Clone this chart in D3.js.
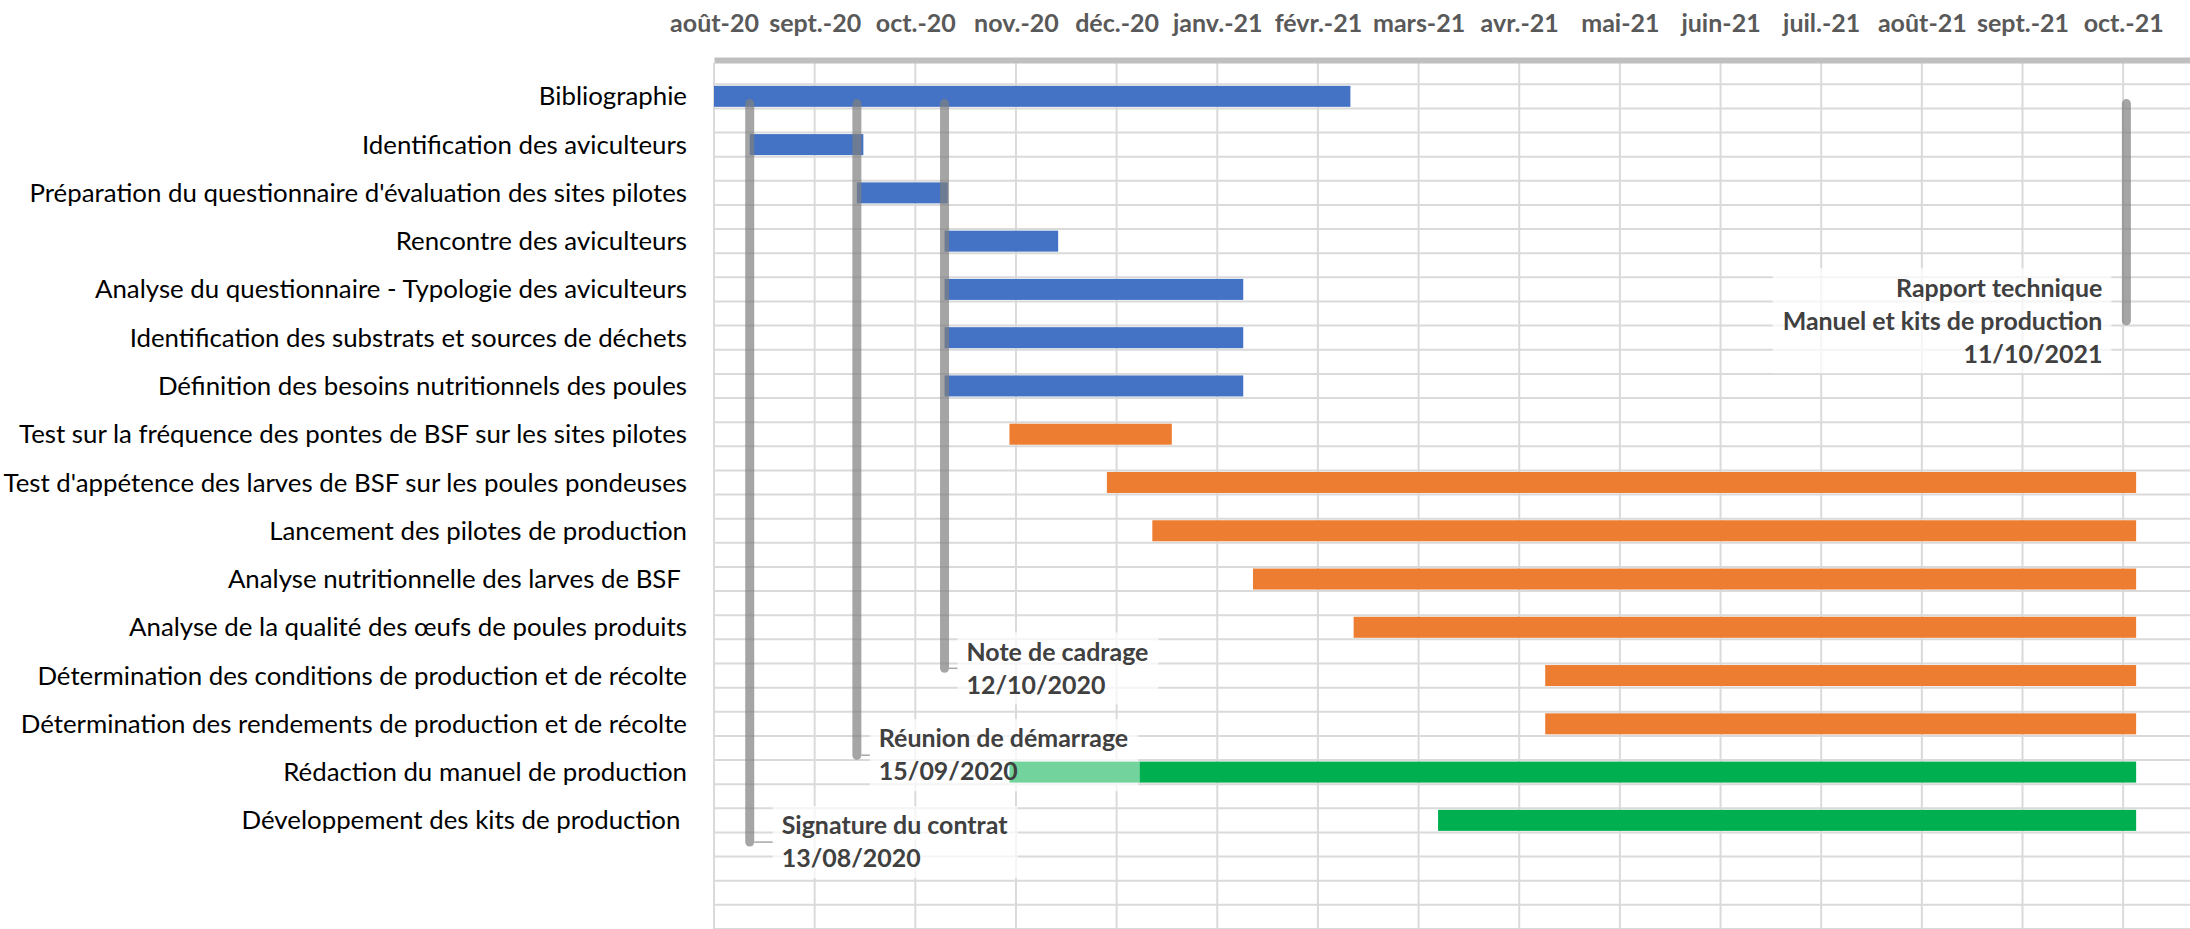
<!DOCTYPE html>
<html>
<head>
<meta charset="utf-8">
<script src="https://cdn.jsdelivr.net/npm/d3@7"></script>
<style>
  html, body { margin: 0; padding: 0; background: #ffffff; }
  svg { display: block; }
</style>
</head>
<body>
<svg id="chart" width="2190" height="929"></svg>
<script>
// ---------------- DATA ----------------
const tasks = [
  "Bibliographie",
  "Identification des aviculteurs",
  "Préparation du questionnaire d'évaluation des sites pilotes",
  "Rencontre des aviculteurs",
  "Analyse du questionnaire - Typologie des aviculteurs",
  "Identification des substrats et sources de déchets",
  "Définition des besoins nutritionnels des poules",
  "Test sur la fréquence des pontes de BSF sur les sites pilotes",
  "Test d'appétence des larves de BSF sur les poules pondeuses",
  "Lancement des pilotes de production",
  "Analyse nutritionnelle des larves de BSF ",
  "Analyse de la qualité des œufs de poules produits",
  "Détermination des conditions de production et de récolte",
  "Détermination des rendements de production et de récolte",
  "Rédaction du manuel de production",
  "Développement des kits de production "
];
const taskStart = [
  "2020-08-01", "2020-08-13", "2020-09-15", "2020-10-12", "2020-10-12", "2020-10-12", "2020-10-12",
  "2020-11-01", "2020-12-01", "2020-12-15", "2021-01-15", "2021-02-15", "2021-04-15", "2021-04-15",
  "2020-12-11", "2021-03-13"
];
const taskEnd = [
  "2021-02-14", "2020-09-17", "2020-10-13", "2020-11-16", "2021-01-12", "2021-01-12", "2021-01-12",
  "2020-12-21", "2021-10-14", "2021-10-14", "2021-10-14", "2021-10-14", "2021-10-14", "2021-10-14",
  "2021-10-14", "2021-10-14"
];
const taskPhase = [
  "Phase 1", "Phase 1", "Phase 1", "Phase 1", "Phase 1", "Phase 1", "Phase 1",
  "Phase 2", "Phase 2", "Phase 2", "Phase 2", "Phase 2", "Phase 2", "Phase 2",
  "Phase 3", "Phase 3"
];
// earlier (lighter) part of a task
const preTask  = ["Rédaction du manuel de production"];
const preStart = ["2020-11-01"];
const preEnd   = ["2020-12-11"];

// milestones
const msDates  = ["2020-08-13", "2020-09-15", "2020-10-12", "2021-10-11"];
const msLabels = [
  ["Signature du contrat", "13/08/2020"],
  ["Réunion de démarrage", "15/09/2020"],
  ["Note de cadrage", "12/10/2020"],
  ["Rapport technique", "Manuel et kits de production", "11/10/2021"]
];
const msLevel = [15.95, 14.15, 12.35, 5.15];   // bottom of each milestone line, in row units
const msTopLevel = 0.65;                        // top of milestone lines, in row units

// axis ticks
const tickDates = ["2020-08-02", "2020-09-02", "2020-10-03", "2020-11-03", "2020-12-04", "2021-01-04",
  "2021-02-04", "2021-03-07", "2021-04-07", "2021-05-08", "2021-06-08", "2021-07-09", "2021-08-09",
  "2021-09-09", "2021-10-10"];
const tickLabels = ["août-20", "sept.-20", "oct.-20", "nov.-20", "déc.-20", "janv.-21", "févr.-21",
  "mars-21", "avr.-21", "mai-21", "juin-21", "juil.-21", "août-21", "sept.-21", "oct.-21"];

// ---------------- LAYOUT / STYLE ----------------
const W = 2190, H = 929;
const FONT = "Lato, 'Open Sans', sans-serif";
const phaseColors = ["#4472c4", "#ed7d31", "#00b050"];
const preColor = "#72d39c";
const gridColor = "#dadada";
const labelDx = [32, 22, 22, -24];
const plotLeft = 714, plotTop = 72.2, plotBottom = 844.5;
const pxPerDay = 3.2469;
const barH = 21;

const parse = d3.utcParse("%Y-%m-%d");
const svg = d3.select("#chart");

function textWidth(text, weight, size) {
  const t = svg.append("text").attr("font-family", FONT).attr("font-weight", weight)
    .attr("font-size", size).style("white-space", "pre").text(text);
  const w = t.node().getComputedTextLength();
  t.remove();
  return w;
}
function fitFont(text, weight, target) {
  return 100 * target / textWidth(text, weight, 100);
}
const widestCat = d3.max(tasks, t => textWidth(t, 400, 100));
const catSize = Math.min(
  fitFont("Préparation du questionnaire d'évaluation des sites pilotes", 400, 666),
  100 * 684 / widestCat
);
const tickSize = fitFont("sept.-21", 700, 92);
const msSize = fitFont("Manuel et kits de production", 700, 320);

const d0 = parse("2020-08-02"), d1 = parse("2021-10-31");
const nDays = (d1 - d0) / 864e5;
const x = d3.scaleUtc().domain([d0, d1]).range([plotLeft, plotLeft + nDays * pxPerDay]).clamp(true);
const y = d3.scaleBand().domain(tasks).range([plotTop, plotBottom]).padding(0);
const yLin = d3.scaleLinear().domain([0, tasks.length]).range([plotTop, plotBottom]);
const color = d3.scaleOrdinal().domain(["Phase 1", "Phase 2", "Phase 3"]).range(phaseColors);

// ---------------- GRID ----------------
const grid = svg.append("g");
const hLines = d3.range(0, 40).map(k => yLin(0.25 + k * 0.5)).filter(v => v <= H + 1);
grid.selectAll("line.h").data(hLines).join("line")
  .attr("x1", plotLeft).attr("x2", W).attr("y1", d => d).attr("y2", d => d)
  .attr("stroke", gridColor).attr("stroke-width", 2);
grid.selectAll("line.v").data(tickDates).join("line")
  .attr("x1", d => x(parse(d))).attr("x2", d => x(parse(d)))
  .attr("y1", 63).attr("y2", H)
  .attr("stroke", gridColor).attr("stroke-width", 2);

// ---------------- MILESTONE LABEL BOXES (behind bars) ----------------
const lineGap = 33;
const msData = msDates.map((d, i) => ({
  date: parse(d), lines: msLabels[i], level: msLevel[i], dx: labelDx[i]
}));
msData.forEach(m => {
  m.x = x(m.date);
  m.py = yLin(m.level);
  m.widths = m.lines.map(s => textWidth(s, 700, msSize));
  m.maxW = d3.max(m.widths);
  m.tx = m.x + m.dx;
});
const boxes = svg.append("g");
msData.forEach(m => {
  const n = m.lines.length;
  const h = n * lineGap + 6;
  const bx = m.dx > 0 ? m.tx - 9 : m.tx - m.maxW - 10;
  boxes.append("rect")
    .attr("x", bx).attr("y", m.py - h / 2)
    .attr("width", m.maxW + 19).attr("height", h)
    .attr("fill", "#ffffff").attr("fill-opacity", 0.72);
});

// ---------------- BARS ----------------
const bars = svg.append("g");
bars.selectAll("rect.task").data(tasks).join("rect")
  .attr("x", (d, i) => x(parse(taskStart[i])))
  .attr("width", (d, i) => x(parse(taskEnd[i])) - x(parse(taskStart[i])))
  .attr("y", d => y(d) + (y.bandwidth() - barH) / 2)
  .attr("height", barH)
  .attr("fill", (d, i) => color(taskPhase[i]));
bars.selectAll("rect.pre").data(preTask).join("rect")
  .attr("x", (d, i) => x(parse(preStart[i])))
  .attr("width", (d, i) => x(parse(preEnd[i])) - x(parse(preStart[i])))
  .attr("y", d => y(d) + (y.bandwidth() - barH) / 2)
  .attr("height", barH)
  .attr("fill", preColor);

// ---------------- AXES ----------------
const xAxis = d3.axisTop(x)
  .tickValues(tickDates.map(parse))
  .tickFormat((d, i) => tickLabels[i])
  .tickSize(0).tickSizeOuter(0).tickPadding(28);
const gx = svg.append("g").attr("transform", "translate(0,60)").call(xAxis);
gx.attr("font-family", FONT).attr("font-size", tickSize).attr("font-weight", 700);
gx.select(".domain").attr("stroke", "#bfbfbf").attr("stroke-width", 6);
gx.selectAll("text").attr("fill", "#595959");

const yAxis = d3.axisLeft(y).tickSize(0).tickPadding(27);
const gy = svg.append("g").attr("transform", `translate(${plotLeft},0)`).call(yAxis);
gy.attr("font-family", FONT).attr("font-size", catSize);
gy.select(".domain").remove();
gy.selectAll("text").attr("fill", "#000000").attr("dy", "0.35em").style("white-space", "pre");

// ---------------- MILESTONES ----------------
const ms = svg.append("g");
ms.selectAll("line.ms").data(msData).join("line")
  .attr("x1", d => d.x).attr("x2", d => d.x)
  .attr("y1", yLin(msTopLevel)).attr("y2", d => d.py)
  .attr("stroke", "#7f7f7f").attr("stroke-opacity", 0.7)
  .attr("stroke-width", 9).attr("stroke-linecap", "round");
ms.selectAll("line.conn").data(msData.filter(m => m.dx > 0)).join("line")
  .attr("x1", d => d.x + 4.5).attr("x2", d => d.tx - 9)
  .attr("y1", d => d.py).attr("y2", d => d.py)
  .attr("stroke", "#a6a6a6").attr("stroke-width", 1.5);
msData.forEach(m => {
  const n = m.lines.length;
  const t = ms.append("text")
    .attr("font-family", FONT).attr("font-weight", 700).attr("font-size", msSize)
    .attr("fill", "#404040")
    .attr("text-anchor", m.dx > 0 ? "start" : "end");
  m.lines.forEach((s, j) => {
    t.append("tspan").attr("x", m.tx)
      .attr("y", m.py + (j - (n - 1) / 2) * lineGap)
      .attr("dy", "0.35em").text(s);
  });
});
</script>
</body>
</html>
